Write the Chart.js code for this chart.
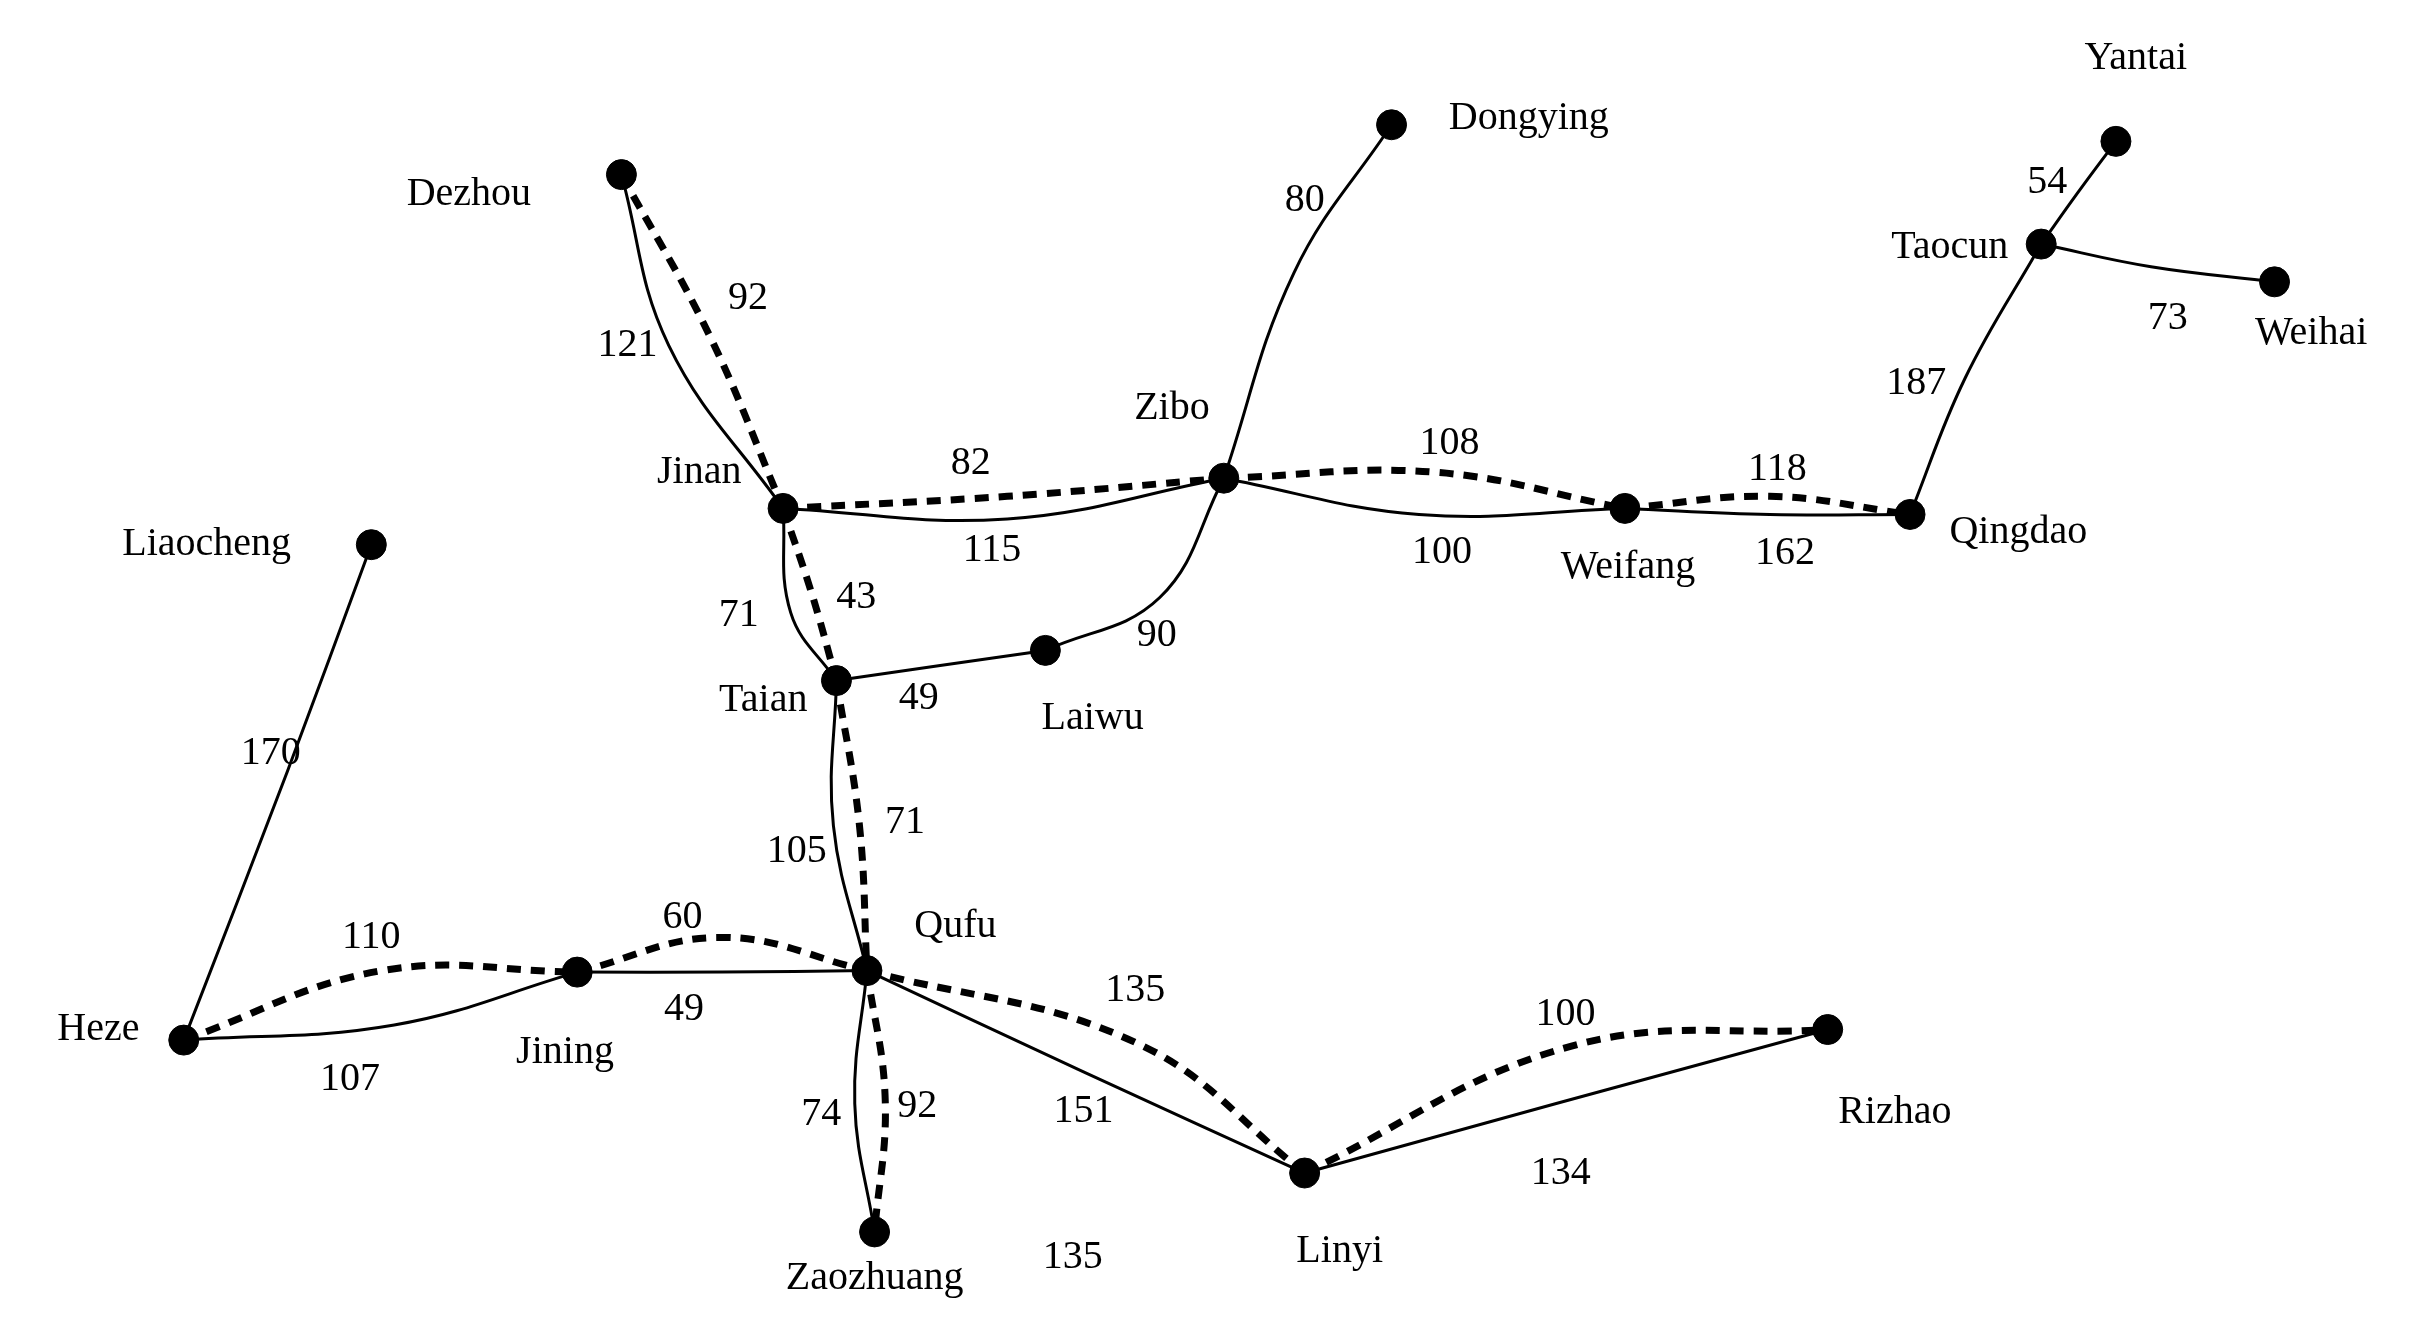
<!DOCTYPE html>
<html>
<head>
<meta charset="utf-8">
<script src="https://cdn.jsdelivr.net/npm/chart.js@4"></script>
<style>
  html, body { margin: 0; padding: 0; background: #fff; }
  #wrap { width: 2411px; height: 1331px; }
</style>
</head>
<body>
<div id="wrap"><canvas id="net"></canvas></div>
<script>
// city names and their positions (picture units, 1560 x 860)
const cities = ["Dezhou","Dongying","Yantai","Taocun","Weihai","Zibo","Jinan","Liaocheng","Weifang","Qingdao","Taian","Laiwu","Qufu","Jining","Heze","Linyi","Rizhao","Zaozhuang"];
const cityX = [397,902,1377,1328,1481,792,503,233,1055,1242,538,675,558,368,110,845,1188,563];
const cityY = [105,72,83,151,176,306,326,350,326,330,440,420,632,633,678,766,671,805];
const cityLabelX = [297,992,1390,1268,1505,758,448,125,1057,1313,490,706,616,360,54,868,1232,563];
const cityLabelY = [118,68,28,153,210,260,302,350,365,342,453,465,603,686,671,818,726,836];

// roads: from, to, point the curve passes through, distance
const solidFrom = ["Dezhou","Jinan","Zibo","Zibo","Weifang","Qingdao","Taocun","Taocun","Jinan","Taian","Laiwu","Liaocheng","Heze","Jining","Taian","Qufu","Qufu","Linyi"];
const solidTo   = ["Jinan","Zibo","Dongying","Weifang","Qingdao","Taocun","Yantai","Weihai","Taian","Laiwu","Zibo","Heze","Jining","Qufu","Qufu","Zaozhuang","Linyi","Rizhao"];
const solidMidX = [428,650,838,920,1150,1278,1352,1400,508,606,750,178,248,463,536,550,700,1010];
const solidMidY = [218,333,170,330,330,240,117,166,395,430,385,500,668,633,536,720,699,720];

const dashFrom = ["Dezhou","Jinan","Taian","Qufu","Jinan","Zibo","Weifang","Heze","Jining","Qufu","Linyi"];
const dashTo   = ["Jinan","Taian","Qufu","Zaozhuang","Zibo","Weifang","Qingdao","Jining","Qufu","Linyi","Rizhao"];
const dashMidX = [455,522,553,570,650,930,1150,240,462,735,1020];
const dashMidY = [212,383,535,718,318,302,318,632,610,680,682];

// road distance labels
const distText = ["121","92","80","54","73","187","82","108","118","115","100","162","71","43","90","49","170","105","71","110","60","135","100","107","49","74","92","151","134","135"];
const distX = [401,480,845,1332,1411,1246,626,940,1155,640,935,1160,474,551,748,592,167,512,583,233,437,734,1016,219,438,528,591,700,1013,693];
const distY = [218,187,122,110,200,243,296,283,300,354,355,356,397,385,410,452,488,553,534,610,597,645,661,704,658,727,722,725,766,822];

function road(from, to, mx, my, dashed) {
  const a = cities.indexOf(from), b = cities.indexOf(to);
  return {
    type: "line",
    data: [{x: cityX[a], y: cityY[a]}, {x: mx, y: my}, {x: cityX[b], y: cityY[b]}],
    borderColor: "#000",
    borderWidth: dashed ? 7 : 3,
    borderDash: dashed ? [14, 10] : [],
    tension: 0.4,
    pointRadius: 0,
    fill: false
  };
}

const datasets = [];
solidFrom.forEach((f, i) => datasets.push(road(f, solidTo[i], solidMidX[i], solidMidY[i], false)));
dashFrom.forEach((f, i) => datasets.push(road(f, dashTo[i], dashMidX[i], dashMidY[i], true)));
datasets.push({
  type: "scatter",
  data: cities.map((c, i) => ({x: cityX[i], y: cityY[i]})),
  backgroundColor: "#000",
  borderColor: "#000",
  pointRadius: 15
});

const textPlugin = {
  id: "texts",
  afterDatasetsDraw(chart) {
    const ctx = chart.ctx, sx = chart.scales.x, sy = chart.scales.y;
    ctx.save();
    ctx.fillStyle = "#000";
    ctx.font = "40px 'Liberation Serif', 'Times New Roman', serif";
    ctx.textAlign = "center";
    ctx.textBaseline = "middle";
    cities.forEach((c, i) => ctx.fillText(c, sx.getPixelForValue(cityLabelX[i]), sy.getPixelForValue(cityLabelY[i])));
    distText.forEach((t, i) => ctx.fillText(t, sx.getPixelForValue(distX[i]), sy.getPixelForValue(distY[i])));
    ctx.restore();
  }
};

new Chart(document.getElementById("net"), {
  data: { datasets },
  options: {
    responsive: true,
    maintainAspectRatio: false,
    animation: false,
    layout: { padding: 0 },
    plugins: { legend: { display: false }, tooltip: { enabled: false } },
    scales: {
      x: { type: "linear", min: 0, max: 1560, display: false },
      y: { type: "linear", min: 0, max: 860, reverse: true, display: false }
    }
  },
  plugins: [textPlugin]
});
</script>
</body>
</html>
